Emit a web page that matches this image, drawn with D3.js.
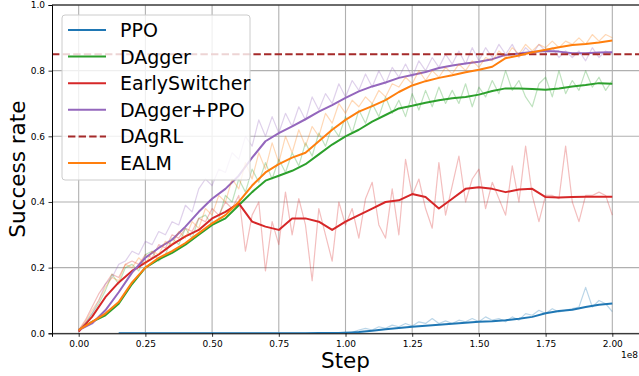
<!DOCTYPE html>
<html>
<head>
<meta charset="utf-8">
<script src="https://cdn.jsdelivr.net/npm/d3@7"></script>
<style>
  body { margin: 0; background: #fff; }
  svg { display: block; font-family: "DejaVu Sans", sans-serif; }
</style>
</head>
<body>
<svg width="639" height="376"></svg>
<script>
// steps in units of 1e8
const steps = [0, 0.05, 0.1, 0.15, 0.2, 0.25, 0.3, 0.35, 0.4, 0.45, 0.5, 0.55, 0.6, 0.65, 0.7, 0.75, 0.8, 0.85, 0.9, 0.95,
  1.0, 1.05, 1.1, 1.15, 1.2, 1.25, 1.3, 1.35, 1.4, 1.45, 1.5, 1.55, 1.6, 1.65, 1.7, 1.75, 1.8, 1.85, 1.9, 1.95, 2.0];
const rawSteps = [0, 0.025, 0.05, 0.075, 0.1, 0.125, 0.15, 0.175, 0.2, 0.225, 0.25, 0.275, 0.3, 0.325, 0.35, 0.375,
  0.4, 0.425, 0.45, 0.475, 0.5, 0.525, 0.55, 0.575, 0.6, 0.625, 0.65, 0.675, 0.7, 0.725, 0.75, 0.775,
  0.8, 0.825, 0.85, 0.875, 0.9, 0.925, 0.95, 0.975, 1.0, 1.025, 1.05, 1.075, 1.1, 1.125, 1.15, 1.175,
  1.2, 1.225, 1.25, 1.275, 1.3, 1.325, 1.35, 1.375, 1.4, 1.425, 1.45, 1.475, 1.5, 1.525, 1.55, 1.575,
  1.6, 1.625, 1.65, 1.675, 1.7, 1.725, 1.75, 1.775, 1.8, 1.825, 1.85, 1.875, 1.9, 1.925, 1.95, 1.975, 2.0];

// PPO starts at 0.15e8
const ppoSmooth = [0, 0, 0, 0, 0, 0, 0, 0, 0, 0, 0, 0, 0, 0, 0, 0.001, 0.001, 0.001,
  0.004, 0.008, 0.012, 0.016, 0.02, 0.023, 0.026, 0.029, 0.032, 0.035, 0.037, 0.04, 0.044, 0.05, 0.061, 0.068, 0.072, 0.08, 0.087, 0.091];
const ppoRaw = [0, 0, 0, 0, 0, 0, 0, 0, 0, 0, 0, 0, 0, 0, 0, 0, 0, 0, 0, 0, 0, 0, 0, 0, 0, 0, 0, 0, 0, 0, 0, 0, 0,
  0.002, 0.005, 0.003, 0.01, 0.015, 0.01, 0.02, 0.015, 0.025, 0.02, 0.03, 0.022, 0.035, 0.03, 0.045, 0.03, 0.038, 0.03,
  0.04, 0.035, 0.045, 0.035, 0.05, 0.04, 0.045, 0.035, 0.05, 0.04, 0.06, 0.055, 0.07, 0.06, 0.075, 0.065, 0.07, 0.075,
  0.08, 0.14, 0.08, 0.10, 0.09, 0.066];

const daggerSmooth = [0.01, 0.035, 0.055, 0.09, 0.15, 0.2, 0.225, 0.245, 0.27, 0.3, 0.33, 0.35, 0.39, 0.43, 0.465, 0.48,
  0.495, 0.515, 0.545, 0.575, 0.6, 0.62, 0.645, 0.665, 0.685, 0.693, 0.702, 0.71, 0.716, 0.72, 0.727, 0.738, 0.746,
  0.746, 0.744, 0.742, 0.746, 0.752, 0.756, 0.762, 0.76];
const daggerRaw = [0.01, 0.03, 0.06, 0.09, 0.13, 0.18, 0.15, 0.2, 0.21, 0.19, 0.24, 0.25, 0.22, 0.24, 0.29, 0.27,
  0.32, 0.29, 0.35, 0.36, 0.33, 0.35, 0.42, 0.40, 0.47, 0.43, 0.50, 0.46, 0.52, 0.47, 0.53, 0.49,
  0.55, 0.51, 0.58, 0.54, 0.61, 0.57, 0.63, 0.60, 0.66, 0.61, 0.68, 0.64, 0.70, 0.66, 0.72, 0.67,
  0.71, 0.66, 0.73, 0.68, 0.74, 0.69, 0.75, 0.70, 0.74, 0.70, 0.76, 0.69, 0.75, 0.72, 0.77, 0.73,
  0.80, 0.74, 0.77, 0.72, 0.69, 0.76, 0.78, 0.72, 0.80, 0.73, 0.77, 0.74, 0.80, 0.75, 0.78, 0.74, 0.77];

const switcherSmooth = [0.005, 0.05, 0.11, 0.155, 0.19, 0.215, 0.24, 0.27, 0.295, 0.315, 0.35, 0.37, 0.396, 0.34,
  0.325, 0.315, 0.35, 0.35, 0.34, 0.315, 0.34, 0.36, 0.38, 0.40, 0.405, 0.424, 0.415, 0.38, 0.41, 0.44, 0.445,
  0.44, 0.43, 0.438, 0.44, 0.415, 0.414, 0.415, 0.416, 0.416, 0.416];
const switcherRaw = [0.01, 0.04, 0.08, 0.12, 0.15, 0.18, 0.17, 0.21, 0.22, 0.21, 0.24, 0.23, 0.27, 0.26, 0.30, 0.29,
  0.32, 0.31, 0.35, 0.34, 0.38, 0.36, 0.40, 0.38, 0.42, 0.25, 0.36, 0.40, 0.19, 0.34, 0.27, 0.43,
  0.30, 0.41, 0.33, 0.16, 0.38, 0.30, 0.22, 0.40, 0.33, 0.38, 0.29, 0.41, 0.46, 0.33, 0.29, 0.44,
  0.30, 0.53, 0.42, 0.47, 0.38, 0.32, 0.52, 0.36, 0.45, 0.54, 0.40, 0.47, 0.50, 0.38, 0.46, 0.41,
  0.36, 0.51, 0.40, 0.57, 0.42, 0.34, 0.42, 0.42, 0.41, 0.57, 0.40, 0.34, 0.42, 0.42, 0.43, 0.42, 0.36];

const daggerPpoSmooth = [0.01, 0.03, 0.07, 0.125, 0.185, 0.23, 0.26, 0.285, 0.325, 0.37, 0.41, 0.44, 0.48, 0.535,
  0.585, 0.61, 0.63, 0.652, 0.675, 0.695, 0.717, 0.737, 0.752, 0.764, 0.778, 0.787, 0.796, 0.808, 0.816, 0.822,
  0.827, 0.835, 0.848, 0.852, 0.857, 0.86, 0.858, 0.853, 0.853, 0.855, 0.856];
const daggerPpoRaw = [0.01, 0.03, 0.06, 0.10, 0.15, 0.17, 0.21, 0.22, 0.25, 0.24, 0.28, 0.27, 0.31, 0.30, 0.34, 0.33,
  0.39, 0.37, 0.44, 0.47, 0.45, 0.50, 0.49, 0.55, 0.53, 0.60, 0.57, 0.65, 0.60, 0.66, 0.61, 0.67,
  0.63, 0.69, 0.65, 0.72, 0.68, 0.73, 0.70, 0.76, 0.72, 0.77, 0.74, 0.79, 0.75, 0.80, 0.76, 0.81,
  0.78, 0.82, 0.78, 0.83, 0.80, 0.84, 0.81, 0.85, 0.82, 0.86, 0.82, 0.87, 0.83, 0.87, 0.84, 0.88,
  0.85, 0.88, 0.84, 0.87, 0.85, 0.88, 0.86, 0.87, 0.84, 0.86, 0.84, 0.86, 0.83, 0.87, 0.84, 0.86, 0.85];

const dagrlLevel = 0.85;

const ealmSmooth = [0.01, 0.035, 0.06, 0.095, 0.155, 0.2, 0.23, 0.25, 0.275, 0.305, 0.335, 0.36, 0.40, 0.45, 0.49,
  0.515, 0.535, 0.55, 0.585, 0.62, 0.65, 0.675, 0.692, 0.71, 0.735, 0.755, 0.768, 0.778, 0.786, 0.795, 0.803,
  0.812, 0.838, 0.846, 0.856, 0.864, 0.871, 0.878, 0.881, 0.886, 0.892];
const ealmRaw = [0.01, 0.035, 0.07, 0.10, 0.14, 0.17, 0.16, 0.21, 0.2, 0.23, 0.21, 0.25, 0.24, 0.28, 0.27, 0.31,
  0.29, 0.34, 0.32, 0.38, 0.36, 0.42, 0.40, 0.47, 0.44, 0.52, 0.47, 0.55, 0.50, 0.58, 0.52, 0.60,
  0.55, 0.62, 0.57, 0.63, 0.60, 0.67, 0.64, 0.70, 0.67, 0.71, 0.69, 0.72, 0.70, 0.74, 0.72, 0.76,
  0.75, 0.78, 0.76, 0.80, 0.77, 0.80, 0.78, 0.81, 0.79, 0.82, 0.80, 0.83, 0.81, 0.84, 0.83, 0.86,
  0.84, 0.87, 0.85, 0.88, 0.86, 0.88, 0.87, 0.89, 0.87, 0.89, 0.88, 0.90, 0.88, 0.91, 0.89, 0.91, 0.90];

const xTicks = [0, 0.25, 0.5, 0.75, 1.0, 1.25, 1.5, 1.75, 2.0];
const yTicks = [0, 0.2, 0.4, 0.6, 0.8, 1.0];

const series = [
  {name: "PPO", color: "#1f77b4", xs: steps.slice(3), ys: ppoSmooth, rxs: rawSteps.slice(6), rys: ppoRaw},
  {name: "DAgger", color: "#2ca02c", xs: steps, ys: daggerSmooth, rxs: rawSteps, rys: daggerRaw},
  {name: "EarlySwitcher", color: "#d62728", xs: steps, ys: switcherSmooth, rxs: rawSteps, rys: switcherRaw},
  {name: "DAgger+PPO", color: "#9467bd", xs: steps, ys: daggerPpoSmooth, rxs: rawSteps, rys: daggerPpoRaw},
  {name: "DAgRL", color: "#a52a2a", dashed: true},
  {name: "EALM", color: "#ff7f0e", xs: steps, ys: ealmSmooth, rxs: rawSteps, rys: ealmRaw}
];

const width = 639, height = 376;
const margin = {top: 5, right: 0, bottom: 42.7, left: 52};

const svg = d3.select("svg");

const x = d3.scaleLinear().domain([-0.1, 2.1]).range([margin.left, width - margin.right]);
const y = d3.scaleLinear().domain([0, 1]).range([height - margin.bottom, margin.top]);

svg.append("defs").append("clipPath").attr("id", "clip")
  .append("rect")
  .attr("x", margin.left).attr("y", margin.top)
  .attr("width", width - margin.left - margin.right)
  .attr("height", height - margin.top - margin.bottom);

// grid
const grid = svg.append("g").attr("stroke", "#b0b0b0").attr("stroke-width", 1.1);
grid.selectAll(".gx").data(xTicks).enter().append("line")
  .attr("x1", d => x(d)).attr("x2", d => x(d))
  .attr("y1", margin.top).attr("y2", height - margin.bottom);
grid.selectAll(".gy").data(yTicks).enter().append("line")
  .attr("y1", d => y(d)).attr("y2", d => y(d))
  .attr("x1", margin.left).attr("x2", width - margin.right);

const plot = svg.append("g").attr("clip-path", "url(#clip)");

series.forEach(s => {
  if (s.dashed) {
    plot.append("line")
      .attr("x1", margin.left).attr("x2", width)
      .attr("y1", y(dagrlLevel)).attr("y2", y(dagrlLevel))
      .attr("stroke", s.color).attr("stroke-width", 2)
      .attr("stroke-dasharray", "7.4,3.2");
    return;
  }
  const raw = s.rxs.map((v, i) => [v, s.rys[i]]);
  const sm = s.xs.map((v, i) => [v, s.ys[i]]);
  const line = d3.line().x(d => x(d[0])).y(d => y(d[1]));
  plot.append("path").datum(raw)
    .attr("fill", "none").attr("stroke", s.color)
    .attr("stroke-width", 1.2).attr("stroke-opacity", 0.3)
    .attr("stroke-linejoin", "round")
    .attr("d", line);
  plot.append("path").datum(sm)
    .attr("fill", "none").attr("stroke", s.color)
    .attr("stroke-width", 2)
    .attr("stroke-linejoin", "round")
    .attr("d", line);
});

// axes
const xAxis = svg.append("g")
  .attr("transform", `translate(0,${height - margin.bottom})`)
  .call(d3.axisBottom(x).tickValues(xTicks).tickFormat(d3.format(".2f")).tickSizeOuter(0).tickSize(3.5).tickPadding(3.5));
const yAxis = svg.append("g")
  .attr("transform", `translate(${margin.left},0)`)
  .call(d3.axisLeft(y).tickValues(yTicks).tickFormat(d3.format(".1f")).tickSizeOuter(0).tickSize(3.5).tickPadding(3.5));
[xAxis, yAxis].forEach(g => {
  g.selectAll("text").attr("font-size", 9).attr("font-family", "DejaVu Sans").attr("fill", "#000");
  g.selectAll("line").attr("stroke", "#000").attr("stroke-width", 0.8);
  g.select(".domain").attr("stroke", "#000").attr("stroke-width", 1);
});

// top spine
svg.append("line")
  .attr("x1", margin.left).attr("x2", width)
  .attr("y1", margin.top).attr("y2", margin.top)
  .attr("stroke", "#000").attr("stroke-width", 1);

svg.append("text")
  .attr("x", width - 1).attr("y", 358)
  .attr("text-anchor", "end").attr("font-size", 9)
  .text("1e8");

svg.append("text")
  .attr("x", (margin.left + width) / 2).attr("y", 368)
  .attr("text-anchor", "middle").attr("font-size", 21.5)
  .text("Step");

svg.append("text")
  .attr("transform", `translate(25,${(margin.top + height - margin.bottom) / 2}) rotate(-90)`)
  .attr("text-anchor", "middle").attr("font-size", 21.5)
  .text("Success rate");

// legend
const legend = svg.append("g");
legend.append("rect")
  .attr("x", 62).attr("y", 15).attr("width", 188).attr("height", 165).attr("rx", 3)
  .attr("fill", "#fff").attr("fill-opacity", 0.8)
  .attr("stroke", "#ccc").attr("stroke-width", 1);
series.forEach((s, i) => {
  const ly = 30 + i * 26.6;
  legend.append("line")
    .attr("x1", 68).attr("x2", 106).attr("y1", ly).attr("y2", ly)
    .attr("stroke", s.color).attr("stroke-width", 2)
    .attr("stroke-dasharray", s.dashed ? "7.4,3.2" : null);
  legend.append("text")
    .attr("x", 120).attr("y", ly + 7)
    .attr("font-size", 19)
    .text(s.name);
});
</script>
</body>
</html>
